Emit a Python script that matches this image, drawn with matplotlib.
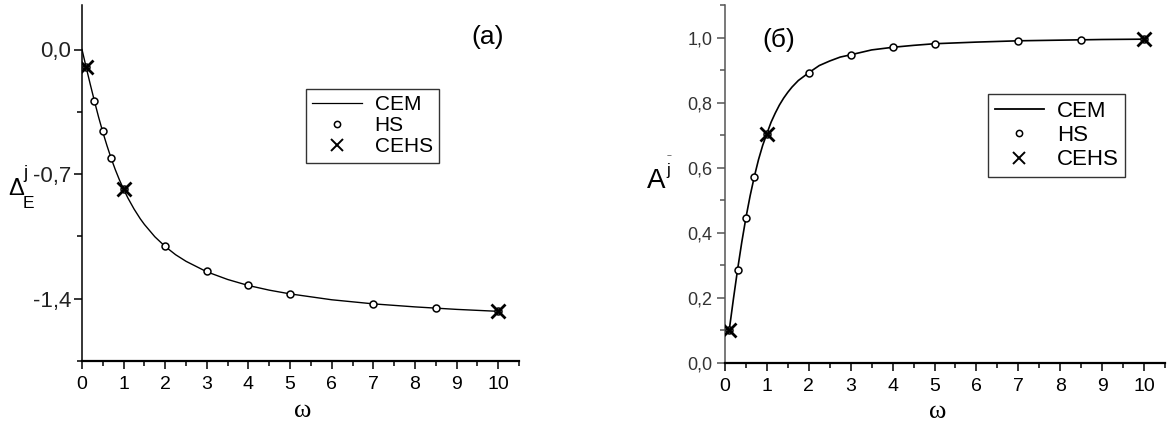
import matplotlib
matplotlib.use("Agg")
import matplotlib.pyplot as plt
from matplotlib.ticker import MultipleLocator, FuncFormatter
from matplotlib.lines import Line2D

# ---- data ----
w_hs = [0.1, 0.3, 0.5, 0.7, 1.0, 2.0, 3.0, 4.0, 5.0, 7.0, 8.5, 10.0]
dE_hs = [-0.10, -0.29, -0.46, -0.61, -0.785, -1.105, -1.245, -1.325, -1.373, -1.429, -1.453, -1.471]
A_hs = [0.10, 0.287, 0.445, 0.572, 0.705, 0.892, 0.947, 0.970, 0.981, 0.990, 0.993, 0.995]

w_cehs = [0.1, 1.0, 10.0]
dE_cehs = [-0.10, -0.785, -1.471]
A_cehs = [0.10, 0.705, 0.995]

w_cem_a = [0.0, 0.05, 0.1, 0.2, 0.3, 0.4, 0.5, 0.6, 0.7, 0.8, 0.9, 1.0, 1.1, 1.25, 1.4, 1.5,
           1.75, 2.0, 2.25, 2.5, 3.0, 3.5, 4.0, 4.5, 5.0, 6.0, 7.0, 8.0, 8.5, 9.0, 10.0]
dE_cem = [0.0, -0.05, -0.10, -0.197, -0.291, -0.381, -0.464, -0.540, -0.611, -0.675, -0.733,
          -0.785, -0.833, -0.896, -0.951, -0.983, -1.052, -1.107, -1.153, -1.190, -1.249,
          -1.292, -1.326, -1.352, -1.373, -1.406, -1.429, -1.446, -1.453, -1.460, -1.471]

w_cem_b = [0.1, 0.2, 0.3, 0.4, 0.5, 0.6, 0.7, 0.8, 0.9, 1.0, 1.1, 1.2, 1.3, 1.4, 1.5, 1.6,
           1.75, 2.0, 2.25, 2.5, 2.75, 3.0, 3.5, 4.0, 4.5, 5.0, 6.0, 7.0, 8.0, 8.5, 9.0, 10.0]
A_cem = [0.10, 0.196, 0.287, 0.371, 0.447, 0.514, 0.573, 0.625, 0.669, 0.705, 0.740,
         0.768, 0.793, 0.814, 0.832, 0.848, 0.868, 0.892, 0.914, 0.928, 0.940, 0.947,
         0.962, 0.970, 0.976, 0.981, 0.986, 0.990, 0.992, 0.993, 0.994, 0.995]

x_ticks = list(range(0, 11))
y_ticks_a = [0.0, -0.7, -1.4]
y_ticks_b = [0.0, 0.2, 0.4, 0.6, 0.8, 1.0]

W, H = 1176, 425
fig = plt.figure(figsize=(W / 100, H / 100), dpi=100)
fig.patch.set_facecolor("white")

SANS = ["Liberation Sans", "DejaVu Sans"]
NARROW = ["Liberation Sans Narrow", "Liberation Sans", "DejaVu Sans"]
SERIF = ["Liberation Serif", "DejaVu Serif"]

def comma(v, pos):
    s = f"{v:.1f}".replace(".", ",")
    if s == "-0,0":
        s = "0,0"
    return s

def style_axes(ax, spine_color_left):
    for s in ("top", "right"):
        ax.spines[s].set_visible(False)
    ax.spines["left"].set_linewidth(1.1)
    ax.spines["left"].set_color(spine_color_left)
    ax.spines["bottom"].set_linewidth(1.6)
    ax.tick_params(which="major", direction="out", length=6, width=1.1)
    ax.tick_params(which="minor", direction="out", length=3.5, width=1.1)
    ax.tick_params(axis="y", which="both", color=spine_color_left)
    ax.set_xlim(0, 10.5)
    ax.set_xticks(x_ticks)
    ax.xaxis.set_minor_locator(MultipleLocator(0.5))
    ax.yaxis.set_major_formatter(FuncFormatter(comma))
    ax.tick_params(axis="x", pad=5)

# ---------- panel (a) ----------
ax1 = fig.add_axes([82 / W, (H - 361) / H, 437 / W, 356 / H])
ax1.plot(w_cem_a, dE_cem, color="black", lw=1.0, zorder=2)
ax1.plot(w_hs, dE_hs, ls="none", marker="o", ms=5, mfc="white", mec="black", mew=1.1, zorder=3)
ax1.plot(w_cehs, dE_cehs, ls="none", marker="x", ms=10, mec="black", mew=2.0, zorder=4)
ax1.set_ylim(-1.75, 0.25)
ax1.set_yticks(y_ticks_a)
ax1.yaxis.set_minor_locator(MultipleLocator(0.35))
style_axes(ax1, "black")
for lab in ax1.get_xticklabels():
    lab.set_fontfamily(NARROW)
    lab.set_fontsize(14)
for lab in ax1.get_yticklabels():
    lab.set_fontfamily(SANS)
    lab.set_fontsize(16)
    lab.set_color("#222222")
ax1.tick_params(axis="y", pad=2)

# ---------- panel (б) ----------
ax2 = fig.add_axes([725 / W, (H - 363) / H, 440 / W, 358 / H])
ax2.plot(w_cem_b, A_cem, color="black", lw=1.2, zorder=2)
ax2.plot(w_hs, A_hs, ls="none", marker="o", ms=5, mfc="white", mec="black", mew=1.1, zorder=3)
ax2.plot(w_cehs, A_cehs, ls="none", marker="x", ms=10, mec="black", mew=2.0, zorder=4)
ax2.set_ylim(0.0, 1.1)
ax2.set_yticks(y_ticks_b)
ax2.yaxis.set_minor_locator(MultipleLocator(0.1))
style_axes(ax2, "#555555")
for lab in ax2.get_xticklabels():
    lab.set_fontfamily(NARROW)
    lab.set_fontsize(14)
for lab in ax2.get_yticklabels():
    lab.set_fontfamily(SANS)
    lab.set_fontsize(13)
    lab.set_color("#333333")
ax2.tick_params(axis="y", pad=3)

def fx(px):
    return px / W

def fy(py):
    return 1 - py / H

# panel labels
fig.text(fx(488), fy(37), "(a)", fontsize=19, family=SANS, ha="center", va="center")
fig.text(fx(779), fy(40), "(б)", fontsize=19, family=SANS, ha="center", va="center")

# y labels (a)
fig.text(fx(16), fy(189), "Δ", fontsize=17, family=SANS, ha="center", va="center")
fig.text(fx(28.5), fy(203), "E", fontsize=12.5, family=SANS, ha="center", va="center")
fig.text(fx(25.5), fy(174), "j", fontsize=13, family=SANS, ha="center", va="center")
# y labels (б)
fig.text(fx(656), fy(181), "A", fontsize=20, family=SANS, ha="center", va="center")
fig.text(fx(668), fy(170), "j", fontsize=12, family=SANS, ha="center", va="center")
fig.text(fx(669), fy(157), "~", fontsize=6, family=SANS, ha="center", va="center")

# x labels
fig.text(fx(303), fy(411), "ω", fontsize=19, family=SERIF, ha="center", va="center")
fig.text(fx(938), fy(412), "ω", fontsize=19, family=SERIF, ha="center", va="center")

# legends
def make_handles(lw):
    return [Line2D([], [], color="black", lw=lw),
            Line2D([], [], ls="none", marker="o", ms=4.5, mfc="white", mec="black", mew=1.1),
            Line2D([], [], ls="none", marker="x", ms=8, mec="black", mew=1.4)]

labels = ["CEM", "HS", "CEHS"]
leg1 = ax1.legend(make_handles(0.9), labels, loc="upper left",
                  bbox_to_anchor=(fx(306), fy(89)), bbox_transform=fig.transFigure,
                  borderaxespad=0, frameon=True, fancybox=False, edgecolor="black",
                  prop={"family": SANS, "size": 15}, handlelength=2.4, handletextpad=0.6,
                  labelspacing=0.1, borderpad=0.3)
leg1.get_frame().set_linewidth(1.0)

leg2 = ax2.legend(make_handles(1.3), labels, loc="upper left",
                  bbox_to_anchor=(fx(988), fy(94)), bbox_transform=fig.transFigure,
                  borderaxespad=0, frameon=True, fancybox=False, edgecolor="black",
                  prop={"family": SANS, "size": 16}, handlelength=2.2, handletextpad=0.6,
                  labelspacing=0.15, borderpad=0.3)
leg2.get_frame().set_linewidth(1.0)

fig.savefig("out.png", dpi=100, facecolor="white")
